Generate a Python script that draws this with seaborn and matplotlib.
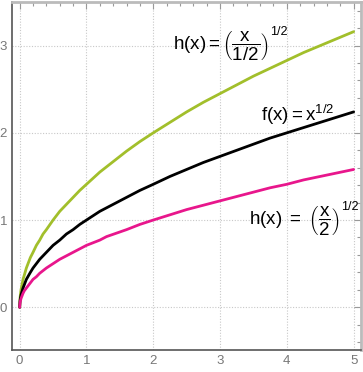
import matplotlib
matplotlib.use("Agg")
import matplotlib.pyplot as plt
import seaborn as sns
import pandas as pd
from matplotlib.ticker import MultipleLocator

sns.set_theme(style="white")
plt.rcParams['font.family'] = ['Liberation Sans', 'DejaVu Sans']
plt.rcParams['mathtext.fontset'] = 'custom'
plt.rcParams['mathtext.rm'] = 'Liberation Sans'
plt.rcParams['mathtext.it'] = 'Liberation Sans'
plt.rcParams['mathtext.bf'] = 'Liberation Sans'

# data
x_vals = [0, 0.005, 0.01, 0.02, 0.03, 0.05, 0.07, 0.1, 0.13, 0.16, 0.2, 0.25, 0.3,
          0.35, 0.4, 0.5, 0.6, 0.7, 0.8, 0.9, 1.0, 1.1, 1.2, 1.3, 1.45, 1.6, 1.8,
          2.0, 2.25, 2.5, 2.75, 3.0, 3.25, 3.5, 3.75, 4.0, 4.25, 4.5, 4.75, 5.0]
f_vals = [0, .07, .10, .14, .17, .22, .26, .32, .36, .40, .45, .50, .55, .59, .63,
          .71, .77, .84, .89, .95, 1.0, 1.05, 1.10, 1.14, 1.20, 1.26, 1.34, 1.41,
          1.50, 1.58, 1.66, 1.73, 1.80, 1.87, 1.94, 2.0, 2.06, 2.12, 2.18, 2.24]
h_half_vals = [0, .10, .14, .20, .24, .32, .37, .45, .51, .57, .63, .71, .77, .84,
               .89, 1.0, 1.10, 1.18, 1.26, 1.34, 1.41, 1.48, 1.55, 1.61, 1.70, 1.79,
               1.90, 2.0, 2.12, 2.24, 2.35, 2.45, 2.55, 2.65, 2.74, 2.83, 2.92, 3.0,
               3.08, 3.16]
h_two_vals = [0, .05, .07, .10, .12, .16, .19, .22, .25, .28, .32, .35, .39, .42,
              .45, .50, .55, .59, .63, .67, .71, .74, .77, .81, .85, .89, .95, 1.0,
              1.06, 1.12, 1.17, 1.22, 1.27, 1.32, 1.37, 1.41, 1.46, 1.5, 1.54, 1.58]
x_ticks = [0, 1, 2, 3, 4, 5]
y_ticks = [0, 1, 2, 3]

series_names = ["green", "black", "magenta"]
colors = {"green": "#A2BF2B", "black": "#000000", "magenta": "#E8168C"}

df = pd.concat([
    pd.DataFrame({"x": x_vals, "y": h_half_vals, "s": "green"}),
    pd.DataFrame({"x": x_vals, "y": f_vals, "s": "black"}),
    pd.DataFrame({"x": x_vals, "y": h_two_vals, "s": "magenta"}),
])

fig = plt.figure(figsize=(3.63, 3.72), dpi=100)
ax = fig.add_axes([12/363, 22/372, 349/363, 348/372])

sns.lineplot(data=df, x="x", y="y", hue="s", palette=colors, hue_order=series_names,
             linewidth=2, legend=False, ax=ax, estimator=None, sort=False)

ax.set_xlim(-0.115, 5.11)
ax.set_ylim(-0.49, 3.5)
ax.set_xticks(x_ticks)
ax.set_yticks(y_ticks)
ax.xaxis.set_minor_locator(MultipleLocator(0.2))
ax.yaxis.set_minor_locator(MultipleLocator(0.2))
ax.set_xlabel("")
ax.set_ylabel("")
ax.grid(True, which="major", linestyle=(0, (1, 1.5)), color="#c8c8c8", linewidth=0.8)
ax.tick_params(which="both", direction="in", top=True, right=True,
               colors="#999999", labelcolor="#777777", labelsize=9.5)
ax.tick_params(which="major", length=5, width=0.8)
ax.tick_params(which="minor", length=3, width=0.8)
for s in ["left", "bottom"]:
    ax.spines[s].set_color("#555555")
    ax.spines[s].set_linewidth(1.2)
for s in ["top", "right"]:
    ax.spines[s].set_color("#bbbbbb")
    ax.spines[s].set_linewidth(2)

fs = 13.5
t1 = ax.text(2.29, 3.0, r"$\mathrm{h(x)} = \left(\dfrac{\mathrm{x}}{1/2}\right)$",
             fontsize=fs, ha="left", va="center", color="black")
ax.annotate("1/2", xy=(1, 1), xycoords=t1, xytext=(1, 2), textcoords="offset points",
            fontsize=9, ha="left", va="top", color="black")
ax.text(3.62, 2.21, r"$\mathrm{f(x)} = \mathrm{x}^{1/2}$",
        fontsize=fs, ha="left", va="center", color="black")
t3 = ax.text(3.44, 1.0, r"$\mathrm{h(x)}\ =\ \left(\dfrac{\mathrm{x}}{2}\right)$",
             fontsize=fs, ha="left", va="center", color="black")
ax.annotate("1/2", xy=(1, 1), xycoords=t3, xytext=(1, 2), textcoords="offset points",
            fontsize=9, ha="left", va="top", color="black")

fig.savefig("out.png", dpi=100)
